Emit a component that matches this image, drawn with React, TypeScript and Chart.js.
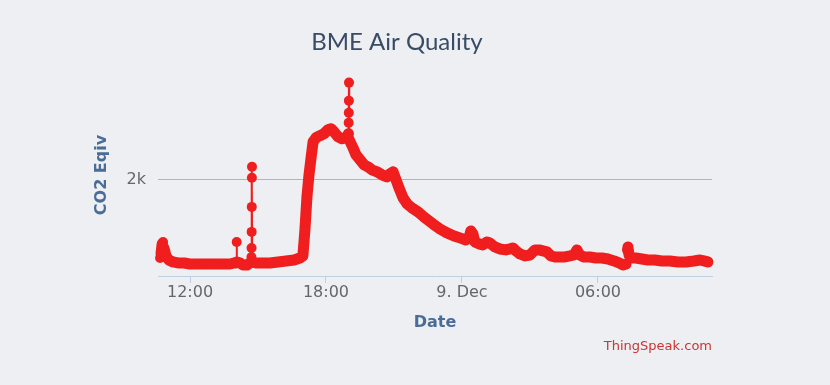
import { useEffect, useRef } from "react";
import { Chart, registerables } from "chart.js";

Chart.register(...registerables);

const chartTitle = "BME Air Quality";
const yAxisTitle = "CO2 Eqiv";
const xAxisTitle = "Date";
const creditText = "ThingSpeak.com";

const xTickHours = [12, 18, 24, 30];
const xTickLabels = ["12:00", "18:00", "9. Dec", "06:00"];
const yTickValues = [2000];
const yTickLabels = ["2k"];

// hours counted from 8 Dec 00:00
const hours = [
  10.68, 10.72, 10.77, 10.81, 10.85, 10.94, 11.07, 11.25, 11.47, 11.74,
  12.0, 12.35, 12.71, 13.06, 13.41, 13.76, 13.94, 14.05, 14.06, 14.07,
  14.21, 14.34, 14.51, 14.65, 14.7, 14.71, 14.715, 14.72, 14.725, 14.73,
  14.735, 14.745, 14.91, 15.18, 15.53, 15.88, 16.24, 16.59, 16.85, 16.98,
  17.07, 17.16, 17.25, 17.34, 17.43, 17.56, 17.73, 17.91, 18.09, 18.22,
  18.35, 18.53, 18.71, 18.9, 18.99, 19.0, 19.005, 19.01, 19.015, 19.025,
  19.19, 19.32, 19.5, 19.68, 19.85, 20.03, 20.25, 20.47, 20.69, 20.82,
  20.96, 21.09, 21.22, 21.4, 21.58, 21.79, 22.06, 22.37, 22.72, 23.03,
  23.34, 23.65, 23.91, 24.17, 24.31, 24.39, 24.48, 24.57, 24.75, 24.92,
  25.1, 25.23, 25.45, 25.67, 25.94, 26.12, 26.25, 26.38, 26.56, 26.78,
  27.0, 27.22, 27.4, 27.57, 27.75, 27.93, 28.1, 28.32, 28.54, 28.76,
  28.94, 29.07, 29.2, 29.38, 29.65, 29.91, 30.17, 30.44, 30.71, 30.93,
  31.1, 31.24, 31.28, 31.32, 31.37, 31.5, 31.67, 31.94, 32.2, 32.51,
  32.82, 33.17, 33.53, 33.88, 34.23, 34.5, 34.67, 34.85,
];

const co2 = [
  375, 458, 667, 708, 583, 417, 333, 292, 271, 271,
  250, 250, 250, 250, 250, 250, 271, 271, 708, 292,
  271, 229, 229, 271, 292, 396, 583, 917, 1437, 2042,
  2271, 292, 271, 271, 271, 292, 313, 333, 375, 417,
  958, 1646, 2104, 2458, 2792, 2875, 2917, 2958, 3042, 3062,
  3000, 2896, 2854, 2875, 2958, 3187, 3396, 3646, 4021, 2833,
  2667, 2521, 2417, 2312, 2271, 2208, 2167, 2104, 2062, 2125,
  2167, 2000, 1833, 1625, 1500, 1417, 1333, 1208, 1083, 979,
  896, 833, 792, 750, 792, 937, 875, 708, 667, 646,
  708, 687, 604, 562, 542, 562, 583, 521, 458, 417,
  437, 542, 542, 521, 500, 417, 396, 396, 396, 417,
  437, 542, 437, 396, 396, 375, 375, 354, 313, 271,
  229, 250, 542, 604, 437, 375, 375, 354, 333, 333,
  313, 313, 292, 292, 313, 333, 313, 292,
];

const RED = "#f01e1e";

export default function App() {
  const ref = useRef<HTMLCanvasElement>(null);

  useEffect(() => {
    document.body.style.margin = "0";
    const canvas = ref.current;
    if (!canvas) return;

    const points = hours.map((h, i) => ({ x: h, y: co2[i] }));

    const textPlugin = {
      id: "extraTexts",
      afterDraw(chart: any) {
        const ctx = chart.ctx;
        ctx.save();
        ctx.fillStyle = "#384c66";
        ctx.font = "24px Lato";
        ctx.textAlign = "center";
        ctx.textBaseline = "middle";
        ctx.fillText(chartTitle, 397, 42);
        ctx.fillStyle = "#cc3333";
        ctx.font = "13px 'DejaVu Sans'";
        ctx.textAlign = "right";
        ctx.fillText(creditText, 712, 347);
        ctx.restore();
      },
    };

    const chart = new Chart(canvas, {
      type: "line",
      data: {
        datasets: [
          {
            data: points,
            borderColor: RED,
            backgroundColor: RED,
            pointBackgroundColor: RED,
            pointBorderWidth: 0,
            pointRadius: 5,
            borderWidth: 11,
            borderJoinStyle: "round",
            borderCapStyle: "round",
            tension: 0,
            clip: 10,
            segment: {
              borderWidth: (c: any) => (Math.abs(c.p1.x - c.p0.x) < 1 ? 2 : 11),
            },
          } as any,
        ],
      },
      options: {
        responsive: false,
        animation: false,
        layout: { padding: { left: 92, right: 118, top: 74, bottom: 53 } },
        plugins: {
          legend: { display: false },
          tooltip: { enabled: false },
          title: { display: false },
        },
        scales: {
          x: {
            type: "linear",
            min: 10.588,
            max: 35.03,
            afterBuildTicks: (s: any) => {
              s.ticks = xTickHours.map((v) => ({ value: v }));
            },
            afterFit: (s: any) => {
              s.height = 56;
            },
            ticks: {
              autoSkip: false,
              maxRotation: 0,
              padding: 0,
              color: "#666666",
              font: { family: "'DejaVu Sans'", size: 16 },
              callback: (v: any) => {
                const i = xTickHours.indexOf(Number(v));
                return i >= 0 ? xTickLabels[i] : "";
              },
            },
            grid: {
              drawOnChartArea: false,
              drawTicks: true,
              tickLength: 7,
              color: "#c0d0e0",
            },
            border: { display: true, color: "#c0d0e0", width: 1 },
            title: {
              display: true,
              text: xAxisTitle,
              color: "#4a6d98",
              font: { family: "'DejaVu Sans'", size: 16, weight: "bold" },
              padding: 0,
            },
          },
          y: {
            type: "linear",
            min: 0,
            max: 4200,
            afterBuildTicks: (s: any) => {
              s.ticks = yTickValues.map((v) => ({ value: v }));
            },
            afterFit: (s: any) => {
              s.width = 66;
            },
            ticks: {
              padding: 12,
              color: "#666666",
              font: { family: "'DejaVu Sans'", size: 16 },
              callback: (v: any) => {
                const i = yTickValues.indexOf(Number(v));
                return i >= 0 ? yTickLabels[i] : "";
              },
            },
            grid: { drawTicks: false, color: "#b4b4b4", lineWidth: 1 },
            border: { display: false },
            title: {
              display: true,
              text: yAxisTitle,
              color: "#4a6d98",
              font: { family: "'DejaVu Sans'", size: 16, weight: "bold" },
              padding: 0,
            },
          },
        },
      },
      plugins: [textPlugin],
    });

    return () => chart.destroy();
  }, []);

  return (
    <div style={{ width: 830, height: 385, background: "#edeff2" }}>
      <canvas ref={ref} width={830} height={385} style={{ display: "block" }} />
    </div>
  );
}
